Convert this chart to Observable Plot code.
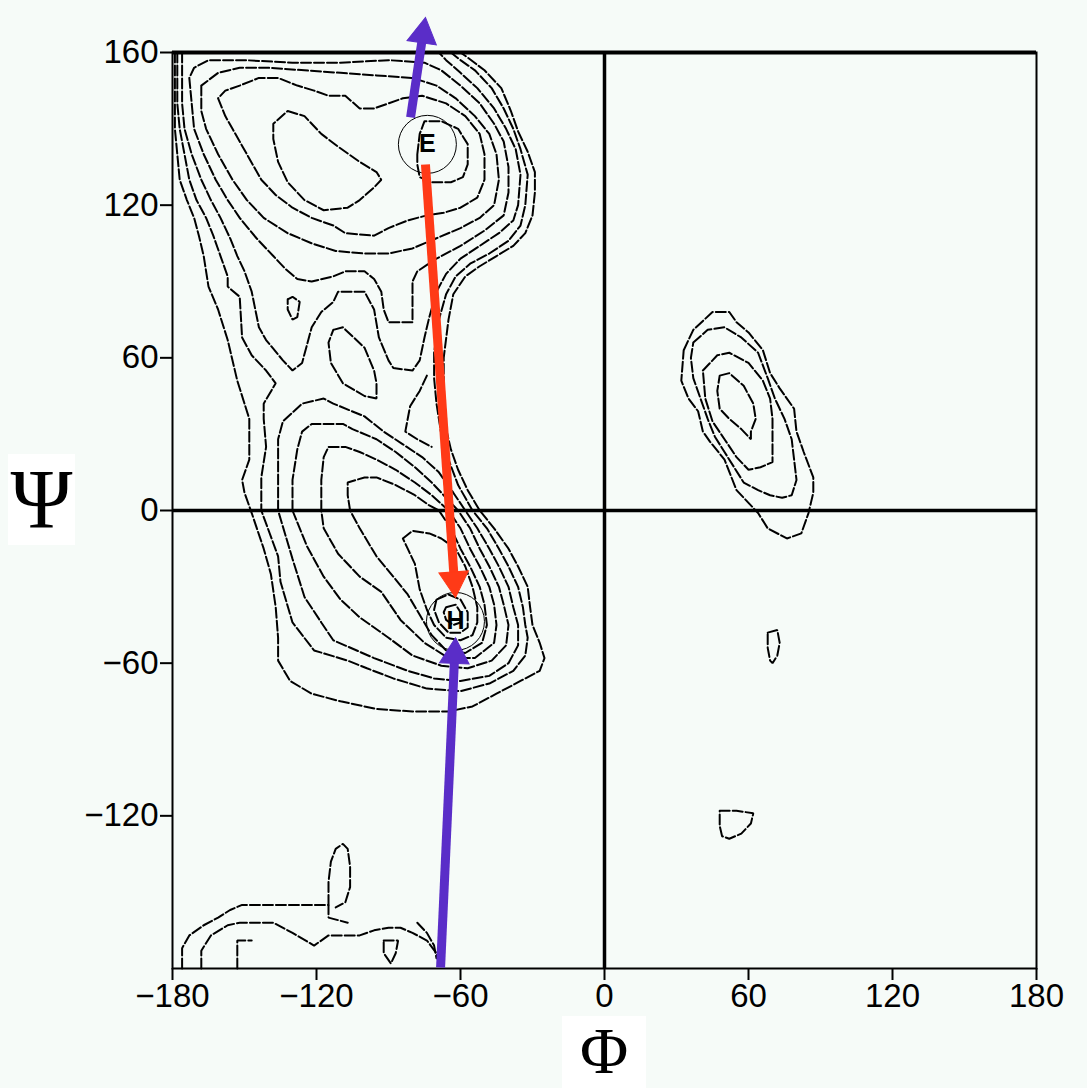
<!DOCTYPE html>
<html><head><meta charset="utf-8">
<script src="https://cdn.jsdelivr.net/npm/d3@7"></script>
<script src="https://cdn.jsdelivr.net/npm/@observablehq/plot@0.6"></script>
<style>
html,body{margin:0;padding:0;background:#f6fbf8;}
#wrap{position:relative;width:1087px;height:1088px;background:#f6fbf8;overflow:hidden;}
#chart{position:absolute;left:0;top:0;}
#psi{position:absolute;left:8px;top:454px;width:67px;height:91px;background:#fff;font-family:"Liberation Serif","DejaVu Serif",serif;font-size:84px;line-height:91px;text-align:center;color:#000;}
#phi{position:absolute;left:562px;top:1016px;width:84px;height:72px;background:#fff;}
#phi span{position:absolute;left:0;top:2px;width:84px;font-family:"Liberation Serif","DejaVu Serif",serif;font-size:66px;line-height:66px;text-align:center;color:#000;}
</style></head>
<body>
<div id="wrap"><div id="chart"></div><div id="psi">Ψ</div><div id="phi"><span>Φ</span></div></div>
<script>
// ---------- axis ticks ----------
const xTicks = [-180, -120, -60, 0, 60, 120, 180];
const xTickLabels = ["\u2212180", "\u2212120", "\u221260", "0", "60", "120", "180"];
const yTicks = [180, 120, 60, 0, -60, -120];
const yTickLabels = ["160", "120", "60", "0", "\u221260", "\u2212120"];

// ---------- contour lines [phi, psi] ----------
const M1 = [[-179,180],[-179,150],[-177,130],[-174,122],[-171,115],[-169,108],[-167,100],[-165,88],[-161,79],[-157,67],[-153,51],[-148,36],[-148,20],[-151,12],[-150,7],[-147,-1],[-142,-15],[-139,-25],[-137,-38],[-136,-50],[-136,-59],[-131,-67],[-122,-72],[-110,-75],[-95,-78],[-80,-79],[-65,-79],[-55,-77],[-45,-72],[-35,-67],[-27,-63],[-25,-58],[-27,-52],[-30,-45],[-31,-38],[-32,-30],[-36,-22],[-40,-15],[-46,-7],[-52,0],[-57,8],[-61,16],[-64,24],[-66,32],[-67,45],[-67,60],[-65,75],[-63,85],[-58,92],[-52,96],[-45,100],[-38,104],[-33,109],[-30,116],[-29,125],[-29,133],[-32,141],[-36,149],[-39,157],[-43,166],[-50,173],[-57,178],[-60,180]];
const M2 = [[-178,180],[-178,160],[-177,150],[-175,140],[-173,130],[-170,122],[-166,115],[-163,108],[-160,100],[-157,92],[-157,88],[-152,84],[-151,68],[-147,61],[-141,55],[-137,50],[-142,42],[-142,36],[-141,25],[-143,13],[-143,0],[-136,-18],[-135,-28],[-130,-44],[-121,-55],[-107,-59],[-99,-62],[-88,-66],[-74,-70],[-60,-71],[-48,-68],[-38,-63],[-33,-57],[-32,-50],[-33,-45],[-34,-38],[-36,-30],[-40,-22],[-44,-15],[-49,-7],[-55,0],[-61,10],[-65,20],[-68,30],[-70,42],[-71,52],[-71,62],[-69,75],[-66,85],[-62,92],[-56,97],[-48,101],[-40,106],[-35,112],[-33,120],[-32,132],[-35,142],[-38,150],[-42,158],[-47,166],[-54,173],[-60,177],[-64,180]];
const B1 = [[-176,180],[-176,160],[-175,150],[-172,140],[-168,130],[-164,122],[-160,115],[-156,107],[-153,100],[-150,94],[-147,86],[-144,72],[-141,67],[-134,59],[-130,55],[-126,58],[-122,72],[-118,78],[-113,82],[-111,86],[-100,86],[-96,79],[-94,68],[-90,59],[-88,56],[-80,55],[-77,59],[-75,68],[-73,76],[-70,86],[-66,93],[-60,99],[-52,104],[-44,109],[-38,114],[-36,120],[-35,132],[-37,142],[-41,150],[-46,158],[-53,166],[-60,172],[-66,177],[-69,180]];
const B2 = [[-173,170],[-172,160],[-171,150],[-167,140],[-162,130],[-157,122],[-152,115],[-145,107],[-138,100],[-133,95],[-128,91],[-122,90],[-113,92],[-108,94],[-100,94],[-96,91],[-93,86],[-92,79],[-90,74],[-80,74],[-80,79],[-80,90],[-78,94],[-70,99],[-60,104],[-50,110],[-42,116],[-40,125],[-40,135],[-42,145],[-46,152],[-52,160],[-60,167],[-68,173],[-75,176],[-90,177],[-110,176],[-130,176],[-150,177],[-165,177],[-171,174],[-173,170]];
const B3 = [[-168,167],[-168,157],[-166,150],[-161,140],[-155,130],[-149,122],[-142,115],[-132,109],[-122,105],[-112,102],[-100,101],[-90,101],[-80,103],[-70,107],[-60,111],[-52,115],[-46,120],[-44,130],[-45,140],[-48,148],[-54,155],[-62,162],[-70,167],[-80,170],[-95,171],[-110,172],[-125,173],[-140,174],[-152,174],[-161,172],[-168,167]];
const B4 = [[-161,162],[-158,155],[-155,150],[-149,140],[-143,130],[-137,124],[-130,119],[-122,115],[-113,112],[-108,109],[-96,108],[-90,111],[-82,114],[-74,116],[-67,117],[-60,119],[-53,123],[-50,130],[-50,140],[-52,148],[-58,155],[-66,160],[-76,163],[-84,162],[-96,158],[-102,158],[-108,163],[-115,163],[-121,165],[-128,167],[-136,170],[-144,170],[-152,167],[-158,165],[-161,162]];
const B5 = [[-132,157],[-125,155],[-118,148],[-111,143],[-102,137],[-95,133],[-93,130],[-96,127],[-102,122],[-107,119],[-117,118],[-125,122],[-132,129],[-136,137],[-138,146],[-138,152],[-132,157]];
const BE = [[-78,140],[-77,148],[-75,153],[-68,153],[-61,150],[-57,144],[-57,136],[-59,131],[-64,129],[-72,129],[-77,131],[-78,136],[-78,140]];
const I1 = [[-113,71],[-109,72],[-100,64],[-96,55],[-95,50],[-95,44],[-100,45],[-109,50],[-114,58],[-115,66],[-113,71]];
const I2 = [[-132,83],[-130,84],[-127,82],[-128,76],[-130,75],[-132,79],[-132,83]];
const Z1 = [[-74,53],[-77,47],[-81,41],[-83,31],[-78,28],[-72,25]];
const A1 = [[-136,0],[-136,15],[-136,28],[-134,35],[-126,42],[-117,44],[-113,42],[-100,37],[-92,31],[-84,26],[-76,21],[-69,15],[-63,7],[-58,0],[-53,-7],[-48,-15],[-44,-22],[-40,-30],[-38,-38],[-36,-45],[-36,-53],[-40,-60],[-48,-65],[-60,-67],[-71,-66],[-82,-63],[-96,-58],[-113,-51],[-118,-44],[-125,-34],[-130,-19],[-136,0]];
const A2 = [[-130,0],[-130,12],[-128,24],[-126,31],[-122,34],[-109,34],[-105,32],[-95,28],[-87,23],[-79,17],[-72,11],[-66,5],[-61,0],[-56,-7],[-52,-15],[-48,-22],[-44,-30],[-42,-37],[-40,-45],[-41,-53],[-47,-59],[-57,-62],[-68,-61],[-80,-57],[-90,-50],[-102,-42],[-110,-35],[-117,-26],[-124,-14],[-130,0]];
const A3 = [[-118,0],[-118,12],[-117,21],[-115,25],[-108,25],[-102,23],[-95,20],[-87,16],[-79,11],[-72,6],[-65,0],[-60,-7],[-56,-15],[-52,-22],[-48,-30],[-46,-37],[-45,-45],[-46,-52],[-54,-58],[-65,-58],[-75,-52],[-85,-43],[-93,-32],[-102,-26],[-111,-17],[-117,-7],[-118,0]];
const A4 = [[-106,0],[-107,6],[-107,11],[-100,13],[-95,13],[-87,10],[-79,6],[-73,2],[-69,0],[-64,-7],[-60,-15],[-56,-22],[-52,-30],[-50,-37],[-49,-45],[-51,-52],[-58,-56],[-66,-55],[-72,-49],[-77,-41],[-82,-33],[-88,-26],[-95,-18],[-102,-7],[-106,0]];
const A5 = [[-84,-11],[-80,-8],[-73,-9],[-68,-11],[-62,-15],[-58,-22],[-55,-30],[-53,-38],[-53,-44],[-55,-49],[-60,-51],[-66,-50],[-71,-45],[-74,-39],[-77,-31],[-79,-21],[-82,-15],[-84,-11]];
const A6 = [[-70,-35],[-65,-33],[-60,-35],[-57,-40],[-57,-46],[-60,-48],[-65,-48],[-69,-44],[-71,-39],[-70,-35]];
const A7 = [[-66,-38],[-62,-37],[-60,-40],[-60,-44],[-63,-45],[-66,-43],[-67,-40],[-66,-38]];
const LH1 = [[33,63],[37,71],[45,78],[52,78],[55,74],[60,70],[66,63],[69,54],[73,48],[79,40],[80,31],[83,23],[87,13],[87,7],[86,3],[85,-1],[82,-9],[76,-11],[68,-7],[64,-1],[60,3],[55,8],[50,20],[44,27],[41,31],[39,39],[35,44],[32,51],[33,63]];
const LH2 = [[37,66],[43,71],[50,72],[57,68],[64,62],[68,52],[71,44],[75,36],[78,28],[79,20],[80,12],[78,6],[74,5],[69,6],[64,8],[58,11],[54,17],[50,23],[46,29],[43,36],[40,44],[37,52],[36,60],[37,66]];
const LH3 = [[41,55],[47,61],[52,62],[60,58],[66,51],[69,44],[70,36],[70,28],[70,19],[65,17],[60,16],[55,21],[50,28],[45,35],[42,44],[41,55]];
const LH4 = [[48,53],[52,54],[58,49],[62,42],[63,36],[61,31],[61,28],[57,32],[52,36],[48,40],[47,47],[48,53]];
const S1 = [[68,-48],[72,-47],[73,-52],[72,-57],[70,-60],[69,-59],[68,-54],[68,-48]];
const S2 = [[48,-118],[55,-118],[62,-119],[61,-123],[57,-127],[52,-129],[49,-128],[48,-124],[48,-118]];
const BL1 = [[-176,-180],[-176,-172],[-173,-167],[-167,-163],[-161,-160],[-156,-157],[-151,-155],[-142,-155],[-128,-155],[-115,-155],[-115,-160],[-107,-162]];
const BL1b = [[-115,-155],[-115,-146],[-114,-138],[-112,-133],[-109,-131],[-107,-133],[-106,-140],[-106,-148],[-108,-154],[-112,-156]];
const BL2 = [[-168,-180],[-168,-173],[-164,-167],[-157,-163],[-152,-162],[-146,-162],[-138,-162],[-130,-166],[-121,-171],[-115,-167],[-102,-167],[-96,-165],[-90,-164],[-85,-164],[-80,-166],[-74,-169],[-70,-174],[-69,-178]];
const BL3 = [[-153,-180],[-153,-169],[-147,-169]];
const BL4 = [[-92,-169],[-86,-169],[-87,-174],[-89,-178],[-92,-174],[-92,-169]];
const BL5 = [[-78,-162],[-74,-166],[-71,-171],[-70,-176]];

const contourList = [["M1",M1],["M2",M2],["B1",B1],["B2",B2],["B3",B3],["B4",B4],["B5",B5],["BE",BE],["I1",I1],["I2",I2],["Z1",Z1],["A1",A1],["A2",A2],["A3",A3],["A4",A4],["A5",A5],["A6",A6],["A7",A7],["LH1",LH1],["LH2",LH2],["LH3",LH3],["LH4",LH4],["S1",S1],["S2",S2],["BL1",BL1],["BL1b",BL1b],["BL2",BL2],["BL3",BL3],["BL4",BL4],["BL5",BL5]];
const contourRows = contourList.flatMap(([id, pts]) => pts.map(([phi, psi]) => ({id, phi, psi})));

// ---------- secondary-structure markers ----------
const markerLabels = ["E", "H"];
const markerPhi = [-73.8, -62.1];
const markerPsi = [143.9, -43.6];
const markerRows = markerLabels.map((label, i) => ({label, phi: markerPhi[i], psi: markerPsi[i]}));

// ---------- arrows (from -> tip) ----------
const arrowFrom = [[-80.8, 154.5], [-74.6, 136.0], [-68.3, -179.6]];
const arrowTo = [[-74.6, 193.8], [-62.1, -34.2], [-62.1, -50.0]];
const arrowColors = ["#5a2dc8", "#ff3a17", "#5a2dc8"];

const headR = 11;
const FONT = "'Liberation Sans', Arial, Helvetica, sans-serif";

function baseMarks() {
  return [
    Plot.line(contourRows, {x: "phi", y: "psi", z: "id", stroke: "#000", strokeWidth: 2, strokeDasharray: "10,3", strokeLinejoin: "miter"}),
    Plot.frame({stroke: "#000", strokeWidth: 2}),
    Plot.ruleY([180], {stroke: "#000", strokeWidth: 4}),
    Plot.ruleX([0], {stroke: "#000", strokeWidth: 3.5}),
    Plot.ruleY([0], {stroke: "#000", strokeWidth: 3.5}),
    Plot.axisX({ticks: xTicks, tickFormat: d => xTickLabels[xTicks.indexOf(d)], tickSize: 12, tickPadding: 3, fontSize: 33, label: null, strokeWidth: 2}),
    Plot.axisY({ticks: yTicks, tickFormat: d => yTickLabels[yTicks.indexOf(d)], tickSize: 12, tickPadding: 2, fontSize: 33, label: null, strokeWidth: 2}),
    Plot.dot(markerRows, {x: "phi", y: "psi", r: 29, stroke: "#000", strokeWidth: 1, fill: "none"})
  ];
}

function render(extra) {
  return Plot.plot({
    width: 1087,
    height: 1015,
    marginLeft: 172,
    marginRight: 51,
    marginTop: 52,
    marginBottom: 47,
    x: {domain: [-180, 180]},
    y: {domain: [-180, 180]},
    style: {background: "transparent", fontFamily: FONT, fontSize: "33px", color: "#000", overflow: "visible"},
    marks: [...baseMarks(), ...extra]
  });
}

const probe = render([]);
const sx = probe.scale("x"), sy = probe.scale("y");
const hy = Math.sqrt(Math.PI * headR * headR / (3 * Math.sqrt(3)));
const arrowMarks = [];
arrowFrom.forEach((f, i) => {
  const t = arrowTo[i];
  const p0 = [sx.apply(f[0]), sy.apply(f[1])];
  const p1 = [sx.apply(t[0]), sy.apply(t[1])];
  const len = Math.hypot(p1[0] - p0[0], p1[1] - p0[1]);
  const u = [(p1[0] - p0[0]) / len, (p1[1] - p0[1]) / len];
  const c = [p1[0] - 2 * hy * u[0], p1[1] - 2 * hy * u[1]];
  const row = {x1: f[0], y1: f[1], x2: sx.invert(c[0]), y2: sy.invert(c[1])};
  const angle = Math.atan2(u[0], -u[1]) * 180 / Math.PI;
  arrowMarks.push(Plot.link([row], {x1: "x1", y1: "y1", x2: "x2", y2: "y2", stroke: arrowColors[i], strokeWidth: 9, strokeLinecap: "butt"}));
  arrowMarks.push(Plot.dot([row], {x: "x2", y: "y2", r: headR, symbol: "triangle", fill: arrowColors[i], stroke: arrowColors[i], strokeWidth: 1, rotate: angle}));
});
arrowMarks.push(Plot.text(markerRows, {x: "phi", y: "psi", text: "label", fontSize: 25, fontWeight: "bold", fontFamily: FONT, fill: "#000"}));

const chart = render(arrowMarks);
document.getElementById("chart").appendChild(chart);
</script>
</body></html>
